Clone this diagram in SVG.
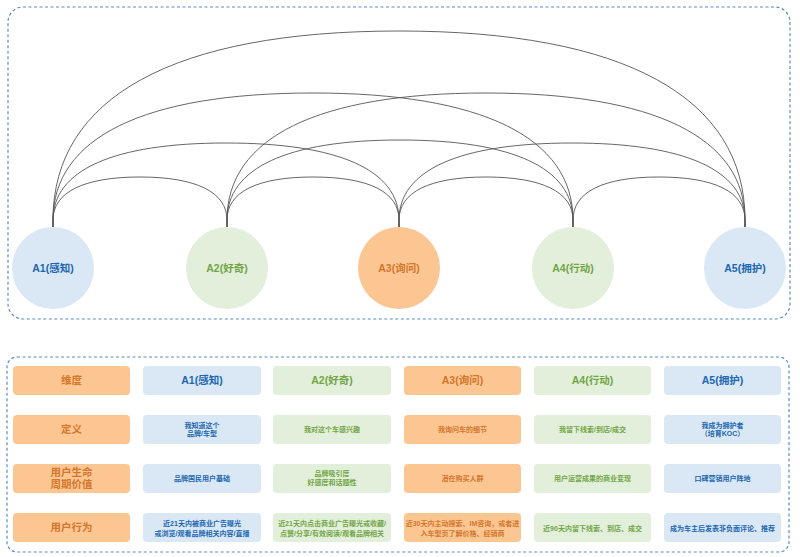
<svg xmlns="http://www.w3.org/2000/svg" width="800" height="557" viewBox="0 0 800 557">
<style>
text{font-family:"Liberation Sans","Noto Sans CJK SC",sans-serif;font-weight:bold;text-anchor:middle}
.frame{fill:none;stroke:#5b8dc4;stroke-width:1.2;stroke-dasharray:3 2.5}
.conn path{fill:none;stroke:#555;stroke-width:0.9}
.b{fill:#dae8f5}.g{fill:#e2efda}.o{fill:#fcc693}
.tb{fill:#2066b0}.tg{fill:#72a547}.to{fill:#d4772b}
.lbl{font-size:10.5px}.hd{font-size:10.5px}.sm{font-size:7px}
</style>
<rect width="800" height="557" fill="#ffffff"/>
<rect class="frame" x="8" y="7" width="782" height="312" rx="15"/>
<rect class="frame" x="7" y="357" width="782" height="195" rx="10"/>
<g id="connectors" class="conn">
<path d="M53,227 V220 C53,192 84,177 140,177 C196,177 227,192 227,220 V227"/>
<path d="M227,227 V220 C227,192 257,177 313,177 C369,177 399,192 399,220 V227"/>
<path d="M399,227 V220 C399,192 430,177 486,177 C542,177 573,192 573,220 V227"/>
<path d="M573,227 V220 C573,192 603,177 659,177 C715,177 745,192 745,220 V227"/>
<path d="M53,227 V220 C53,170 113.5,143 226,143 C338.5,143 399,170 399,220 V227"/>
<path d="M227,227 V220 C227,168 287.5,140 400,140 C512.5,140 573,168 573,220 V227"/>
<path d="M399,227 V220 C399,170 459.5,143 572,143 C684.5,143 745,170 745,220 V227"/>
<path d="M53,227 V220 C53,137.5 144,93 313,93 C482,93 573,137.5 573,220 V227"/>
<path d="M227,227 V220 C227,137.5 318,93 486,93 C654,93 745,137.5 745,220 V227"/>
<path d="M53,227 V220 C53,97 174,31 399,31 C624,31 745,97 745,220 V227"/>
</g>
<g id="A1"><circle class="b" cx="53" cy="268" r="41"/><text class="lbl tb" x="53" y="272">A1(感知)</text></g>
<g id="A2"><circle class="g" cx="227" cy="268" r="41"/><text class="lbl tg" x="227" y="272">A2(好奇)</text></g>
<g id="A3"><circle class="o" cx="399" cy="268" r="41"/><text class="lbl to" x="399" y="272">A3(询问)</text></g>
<g id="A4"><circle class="g" cx="573" cy="268" r="41"/><text class="lbl tg" x="573" y="272">A4(行动)</text></g>
<g id="A5"><circle class="b" cx="745" cy="268" r="41"/><text class="lbl tb" x="745" y="272">A5(拥护)</text></g>
<g id="table">
<g id="col0">
<rect class="o" x="13" y="366" width="117" height="29" rx="4"/><text class="hd to" x="71.5" y="384">维度</text>
<rect class="o" x="13" y="415" width="117" height="29" rx="4"/><text class="hd to" x="71.5" y="433">定义</text>
<rect class="o" x="13" y="464" width="117" height="29" rx="4"/><text class="hd to" x="71.5" y="476">用户生命</text><text class="hd to" x="71.5" y="488">周期价值</text>
<rect class="o" x="13" y="513" width="117" height="29" rx="4"/><text class="hd to" x="71.5" y="531">用户行为</text>
</g>
<g id="col1">
<rect class="b" x="143" y="366" width="118" height="29" rx="4"/><text class="hd tb" x="202" y="384">A1(感知)</text>
<rect class="b" x="143" y="415" width="118" height="29" rx="4"/><text class="sm tb" x="202" y="427.5">我知道这个</text><text class="sm tb" x="202" y="436">品牌/车型</text>
<rect class="b" x="143" y="464" width="118" height="29" rx="4"/><text class="sm tb" x="202" y="481">品牌国民用户基础</text>
<rect class="b" x="143" y="513" width="118" height="29" rx="4"/><text class="sm tb" x="202" y="525.5">近21天内被商业广告曝光</text><text class="sm tb" x="202" y="535.5">或浏览/观看品牌相关内容/直播</text>
</g>
<g id="col2">
<rect class="g" x="273" y="366" width="118" height="29" rx="4"/><text class="hd tg" x="332" y="384">A2(好奇)</text>
<rect class="g" x="273" y="415" width="118" height="29" rx="4"/><text class="sm tg" x="332" y="432">我对这个车感兴趣</text>
<rect class="g" x="273" y="464" width="118" height="29" rx="4"/><text class="sm tg" x="332" y="475.5">品牌吸引度</text><text class="sm tg" x="332" y="484.5">好感度和话题性</text>
<rect class="g" x="273" y="513" width="118" height="29" rx="4"/><text class="sm tg" x="332" y="525.5">近21天内点击商业广告曝光或收藏/</text><text class="sm tg" x="332" y="535.5">点赞/分享/有效阅读/观看品牌相关</text>
</g>
<g id="col3">
<rect class="o" x="404" y="366" width="117" height="29" rx="4"/><text class="hd to" x="462.5" y="384">A3(询问)</text>
<rect class="o" x="404" y="415" width="117" height="29" rx="4"/><text class="sm to" x="462.5" y="432">我询问车的细节</text>
<rect class="o" x="404" y="464" width="117" height="29" rx="4"/><text class="sm to" x="462.5" y="481">潜在购买人群</text>
<rect class="o" x="404" y="513" width="117" height="29" rx="4"/><text class="sm to" x="462.5" y="525.5">近30天内主动搜索、IM咨询，或者进</text><text class="sm to" x="462.5" y="535.5">入车型页了解价格、经销商</text>
</g>
<g id="col4">
<rect class="g" x="534" y="366" width="117" height="29" rx="4"/><text class="hd tg" x="592.5" y="384">A4(行动)</text>
<rect class="g" x="534" y="415" width="117" height="29" rx="4"/><text class="sm tg" x="592.5" y="432">我留下线索/到店/成交</text>
<rect class="g" x="534" y="464" width="117" height="29" rx="4"/><text class="sm tg" x="592.5" y="481">用户运营成果的商业变现</text>
<rect class="g" x="534" y="513" width="117" height="29" rx="4"/><text class="sm tg" x="592.5" y="530.5">近90天内留下线索、到店、成交</text>
</g>
<g id="col5">
<rect class="b" x="664" y="366" width="117" height="29" rx="4"/><text class="hd tb" x="722.5" y="384">A5(拥护)</text>
<rect class="b" x="664" y="415" width="117" height="29" rx="4"/><text class="sm tb" x="722.5" y="427.5">我成为拥护者</text><text class="sm tb" x="722.5" y="436">（培育KOC）</text>
<rect class="b" x="664" y="464" width="117" height="29" rx="4"/><text class="sm tb" x="722.5" y="481">口碑营销用户阵地</text>
<rect class="b" x="664" y="513" width="117" height="29" rx="4"/><text class="sm tb" x="722.5" y="530.5">成为车主后发表非负面评论、推荐</text>
</g>
</g>
</svg>
